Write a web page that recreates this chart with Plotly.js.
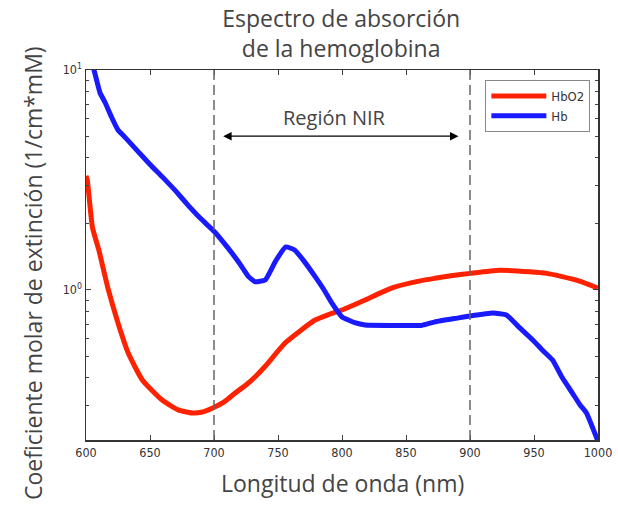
<!DOCTYPE html>
<html>
<head>
<meta charset="utf-8">
<script src="https://cdn.plot.ly/plotly-3.0.1.min.js"></script>
<style>html,body{margin:0;padding:0;background:#fff;}#chart{width:618px;height:505px;}</style>
</head>
<body>
<div id="chart"></div>
<script>
// Wavelength (nm) and molar extinction (1/cm*mM)
const hbo2X = [600, 601, 605, 610, 617.5, 625, 633, 644, 659.5, 672, 683, 690, 699, 708, 716.5, 725, 732, 740, 755.5, 767, 779, 790, 800, 818, 830, 841, 861, 872.5, 885, 900, 923, 946.5, 960, 972, 985, 1000];
const hbo2Y = [3.3, 3.16, 1.93, 1.52, 1.0, 0.708, 0.517, 0.39, 0.316, 0.285, 0.276, 0.278, 0.291, 0.31, 0.34, 0.37, 0.402, 0.45, 0.574, 0.65, 0.73, 0.775, 0.811, 0.90, 0.97, 1.03, 1.10, 1.13, 1.16, 1.19, 1.23, 1.21, 1.19, 1.15, 1.10, 1.02];

const hbX = [600, 605, 611, 615, 620, 625, 630, 640, 650, 660, 670, 680, 690, 700, 711, 720, 727, 732, 740, 748, 756, 763, 770, 779, 786, 792, 800, 810, 818, 840, 862, 872.5, 890, 900, 918, 928.5, 938, 949, 957, 964.5, 972, 980, 986, 991, 996, 1000];
const hbY = [12, 10.6, 7.86, 7.1, 6.1, 5.34, 4.98, 4.3, 3.72, 3.25, 2.82, 2.42, 2.1, 1.85, 1.55, 1.32, 1.15, 1.09, 1.11, 1.35, 1.57, 1.52, 1.36, 1.15, 1.0, 0.873, 0.754, 0.71, 0.693, 0.69, 0.69, 0.716, 0.745, 0.762, 0.786, 0.77, 0.68, 0.593, 0.53, 0.48, 0.40, 0.34, 0.30, 0.276, 0.235, 0.205];

const xTicks = [600, 650, 700, 750, 800, 850, 900, 950, 1000];
const yTicks = [1, 10];
const yTickText = ['10<sup>0</sup>', '10<sup>1</sup>'];
const yMinor = [0.3, 0.4, 0.5, 0.6, 0.7, 0.8, 0.9, 2, 3, 4, 5, 6, 7, 8, 9];
const nirBounds = [700, 900];

const narrow = 'DejaVu Sans Condensed, Liberation Sans Narrow, Arial Narrow, Liberation Sans, sans-serif';
const tickFont = {family: narrow, size: 12.5, color: '#333'};
const textFont = 'Open Sans, sans-serif';

const traces = [
  {x: hbo2X, y: hbo2Y, name: 'HbO2', type: 'scatter', mode: 'lines',
   line: {color: '#ff2200', width: 5, shape: 'spline', smoothing: 0.5}},
  {x: hbX, y: hbY, name: 'Hb', type: 'scatter', mode: 'lines',
   line: {color: '#1a1aff', width: 5, shape: 'spline', smoothing: 0.4}}
];

const layout = {
  width: 618, height: 505,
  margin: {l: 85.5, r: 20, t: 70, b: 65},
  paper_bgcolor: '#fff', plot_bgcolor: '#fff',
  title: {text: 'Espectro de absorción<br>de la hemoglobina', font: {family: textFont, size: 23, color: '#444'},
          x: 0.552, xanchor: 'center', y: 0.947, yanchor: 'top', yref: 'container'},
  xaxis: {range: [600, 1000], tickvals: xTicks, ticks: 'inside', ticklen: 5, tickcolor: '#444',
          showline: true, linecolor: '#333', linewidth: 1.5, mirror: 'ticks', showgrid: false, zeroline: false,
          tickfont: tickFont},
  yaxis: {type: 'log', range: [Math.log10(0.208), 1], tickvals: yTicks, ticktext: yTickText,
          ticks: 'inside', ticklen: 5, tickcolor: '#444',
          minor: {tickvals: yMinor, ticks: 'inside', ticklen: 3, tickcolor: '#444'},
          showline: true, linecolor: '#333', linewidth: 1.5, mirror: 'ticks', showgrid: false, zeroline: false,
          tickfont: tickFont},
  legend: {x: 0.78, y: 0.973, xanchor: 'left', yanchor: 'top', bgcolor: '#fff', bordercolor: '#888', borderwidth: 1,
           itemwidth: 55,
           font: {family: narrow, size: 13, color: '#333'}},
  showlegend: true,
  shapes: nirBounds.map(v => ({type: 'line', xref: 'x', yref: 'paper', x0: v, x1: v, y0: 0, y1: 1,
                               line: {color: '#666', width: 1.5, dash: '10px,5px'}})),
  annotations: [
    {x: 891, y: Math.log10(5), ax: 706, ay: Math.log10(5), xref: 'x', yref: 'y', axref: 'x', ayref: 'y',
     text: '', showarrow: true, arrowside: 'end+start', arrowhead: 2, arrowsize: 1.3, arrowwidth: 1.3, arrowcolor: '#000'},
    {x: 794, y: 0.782, xref: 'x', yref: 'y', text: 'Región NIR', showarrow: false,
     font: {family: textFont, size: 20, color: '#444'}},
    {x: 0.5, y: -0.116, xref: 'paper', yref: 'paper', xanchor: 'center', yanchor: 'middle',
     text: 'Longitud de onda (nm)', showarrow: false,
     font: {family: textFont, size: 23, color: '#444'}},
    {x: -0.1044, y: 0.45, xref: 'paper', yref: 'paper', xanchor: 'center', yanchor: 'middle', textangle: -90,
     text: 'Coeficiente molar de extinción (1/cm*mM)', showarrow: false,
     font: {family: textFont, size: 23, color: '#444'}}
  ]
};

Plotly.newPlot('chart', traces, layout, {displayModeBar: false, staticPlot: true});
</script>
</body>
</html>
